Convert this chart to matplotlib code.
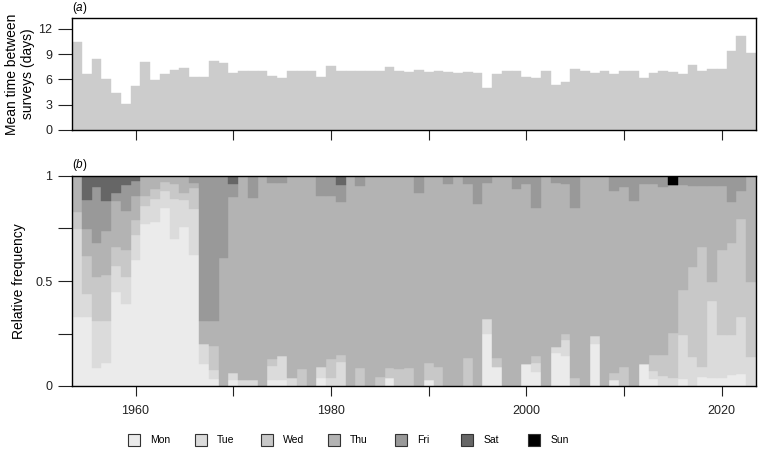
import numpy as np
import matplotlib
matplotlib.use("Agg")
import matplotlib.pyplot as plt
from matplotlib.patches import Rectangle

plt.rcParams['font.family'] = ['Liberation Sans', 'DejaVu Sans']
plt.rcParams['mathtext.fontset'] = 'custom'
plt.rcParams['mathtext.rm'] = 'Liberation Sans'
plt.rcParams['mathtext.it'] = 'Liberation Sans:italic'

# data
years = np.arange(1954, 2024)

mean_gap = [10.4, 6.7, 8.4, 6.06, 4.4, 3.1, 5.2, 8.1, 5.9, 6.65,
            7.1, 7.4, 6.3, 6.3, 8.2, 7.9, 6.8, 7.0, 7.0, 7.0,
            6.45, 6.2, 7.0, 7.0, 7.0, 6.25, 7.6, 7.0, 7.0, 6.97,
            7.0, 6.97, 7.5, 7.0, 6.85, 7.1, 6.93, 7.0, 6.9, 6.8,
            6.85, 6.8, 5.0, 6.7, 7.0, 6.97, 6.25, 6.2, 7.0, 5.4,
            5.75, 7.2, 7.05, 6.8, 7.0, 6.7, 7.0, 7.0, 6.2, 6.8,
            7.0, 6.93, 6.65, 7.7, 7.0, 7.25, 7.3, 9.4, 11.2, 9.2]

mon = [.33, .33, .087, .11, .45, .39, .60, .77, .78, .85,
       .70, .757, .625, .106, .035, 0, .027, 0, 0, 0,
       .03, .03, 0, 0, 0, .04, 0, 0, 0, 0,
       0, 0, .036, 0, 0, 0, .03, 0, 0, 0,
       0, 0, .25, .092, 0, 0, .105, .068, 0, .156,
       .143, 0, 0, .2, 0, .029, 0, 0, .106, .035,
       0, 0, .035, 0, .043, .038, .038, .051, .056, 0]

tue = [.42, .11, .223, .20, .12, .13, .12, .085, .11, .08,
       .19, .127, .22, .094, .04, 0, .033, .03, .03, 0,
       .065, .113, .04, 0, 0, .05, .04, .116, 0, 0,
       0, 0, 0, 0, 0, 0, 0, 0, 0, 0,
       0, 0, .067, 0, 0, 0, 0, .04, 0, .031,
       .074, 0, 0, .04, 0, 0, 0, 0, 0, .035,
       .048, .04, .21, .138, .047, .365, .203, .19, .273, .138]

wed = [.08, .18, .21, .22, .09, .13, .07, .05, .05, .04,
       .07, .036, .10, 0, .115, 0, 0, 0, 0, 0,
       .035, 0, 0, .08, 0, 0, .09, .034, 0, .084,
       0, .044, .048, .08, .084, 0, .078, .09, 0, 0,
       .135, 0, 0, .043, 0, 0, 0, .036, 0, 0,
       .033, .04, 0, 0, 0, .034, .089, 0, 0, .08,
       .102, .214, .21, .43, .572, .092, .405, .442, .468, .357]

thu = [.17, .13, .16, .21, .22, .185, .115, .095, .06, .03,
       .04, .08, .02, .11, .12, .61, .84, .97, .867, 1,
       .835, .822, .96, .92, 1, .815, .775, .728, 1, .87,
       1, .956, .916, .92, .916, .917, .892, .91, .962, 1,
       .827, .867, .648, .865, 1, .94, .857, .702, 1, .778,
       .712, .806, 1, .76, 1, .867, .861, .88, .854, .81,
       .80, .702, .501, .386, .292, .459, .308, .193, .133, .505]

fri = [0, .136, .27, .14, .04, .12, .07, 0, 0, 0,
       0, 0, .035, .69, .69, .39, .063, 0, .103, 0,
       .035, .035, 0, 0, 0, .095, .095, .079, 0, .046,
       0, 0, 0, 0, 0, .083, 0, 0, .038, 0,
       .038, .133, .035, 0, 0, .06, .038, .154, 0, .035,
       .038, .154, 0, 0, 0, .07, .05, .12, .04, .04,
       .05, 0, .044, .046, .046, .046, .046, .124, .07, 0]

sat = [0, .114, .05, .12, .08, .045, .025, 0, 0, 0,
       0, 0, 0, 0, 0, 0, .037, 0, 0, 0,
       0, 0, 0, 0, 0, 0, 0, .043, 0, 0,
       0, 0, 0, 0, 0, 0, 0, 0, 0, 0,
       0, 0, 0, 0, 0, 0, 0, 0, 0, 0,
       0, 0, 0, 0, 0, 0, 0, 0, 0, 0,
       0, 0, 0, 0, 0, 0, 0, 0, 0, 0]

sun = [0] * 61 + [.044] + [0] * 8

days = ['Mon', 'Tue', 'Wed', 'Thu', 'Fri', 'Sat', 'Sun']
day_cols = ['#ebebeb', '#dbdbdb', '#c8c8c8', '#b3b3b3', '#999999', '#666666', '#000000']

W, H = 758, 449
fig = plt.figure(figsize=(W / 100, H / 100), dpi=100)

def box(l, t, r, b):
    return [l / W, 1 - b / H, (r - l) / W, (b - t) / H]

ax1 = fig.add_axes(box(72, 18, 756, 130))
ax2 = fig.add_axes(box(72, 176, 756, 386))

# (a) mean time between surveys
ax1.bar(years, mean_gap, width=1.0, color='#cccccc', edgecolor='#cccccc', linewidth=0.3)
ax1.set_ylim(0, 13.3)
ax1.set_yticks([0, 3, 6, 9, 12])
ax1.set_xticks(np.arange(1960, 2030, 10))
ax1.set_xticklabels([])

# (b) relative frequency by weekday
bottom = np.zeros(len(years))
for vals, col in zip([mon, tue, wed, thu, fri, sat, sun], day_cols):
    vals = np.array(vals)
    ax2.bar(years, vals, width=1.0, bottom=bottom, color=col, edgecolor=col, linewidth=0.3)
    bottom += vals
ax2.set_ylim(0, 1)
ax2.set_yticks([0, 0.25, 0.5, 0.75, 1])
ax2.set_yticklabels(['0', '', '0.5', '', '1'])
ax2.set_xticks(np.arange(1960, 2030, 10))
ax2.set_xticklabels(['1960', '', '1980', '', '2000', '', '2020'])

for ax in (ax1, ax2):
    ax.set_xlim(1953.5, 2023.5)
    for s in ax.spines.values():
        s.set_linewidth(1.0)
        s.set_color('black')
    ax.tick_params(axis='y', length=10, width=0.8, pad=4, labelsize=9, colors='#222222')
    ax.tick_params(axis='x', length=7, width=0.8, pad=6.5, labelsize=9, colors='#222222')

fig.text(20 / W, 1 - 74 / H, 'Mean time between\nsurveys (days)', rotation=90,
         ha='center', va='center', fontsize=10, linespacing=1.1)
fig.text(19 / W, 1 - 281 / H, 'Relative frequency', rotation=90,
         ha='center', va='center', fontsize=10)
fig.text(72 / W, 1 - 8 / H, r'$(\mathit{a})$', ha='left', va='center', fontsize=8.5)
fig.text(72 / W, 1 - 165 / H, r'$(\mathit{b})$', ha='left', va='center', fontsize=8.5)

# legend row
for i, (d, col) in enumerate(zip(days, day_cols)):
    x0 = 128 + i * 66.7
    fig.patches.append(Rectangle((x0 / W, 1 - 446 / H), 12 / W, 12 / H,
                                 transform=fig.transFigure, facecolor=col,
                                 edgecolor='#333333', linewidth=0.8))
    fig.text((x0 + 22) / W, 1 - 440 / H, d, ha='left', va='center', fontsize=7.5)

fig.savefig('out.png', dpi=100)
